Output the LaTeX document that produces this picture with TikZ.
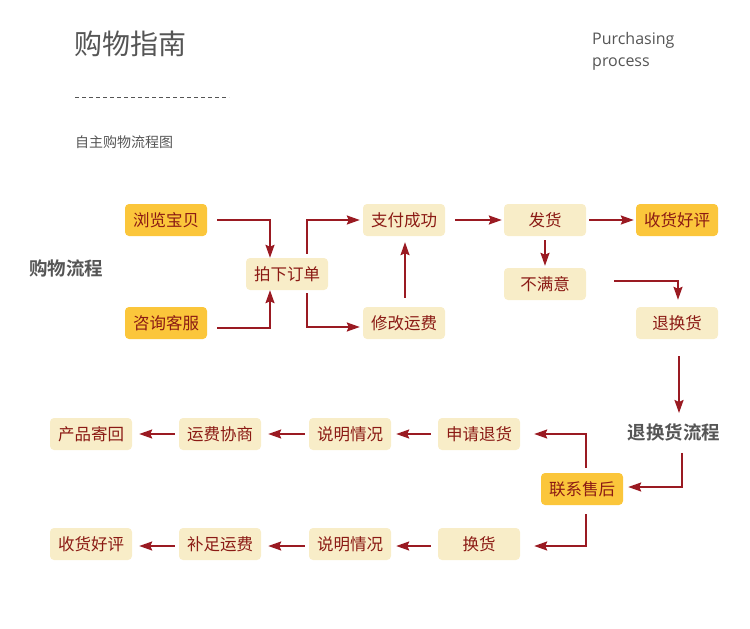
\documentclass[tikz,border=0pt]{standalone}
\usepackage{fontspec}
\setmainfont{Open Sans}
\newfontfamily\cjk{Noto Sans CJK SC}
\newfontfamily\cjkb{Noto Sans CJK SC Bold}
\usetikzlibrary{arrows.meta,calc}
\definecolor{boxyel}{HTML}{FBC63B}
\definecolor{boxbei}{HTML}{F8EDC8}
\definecolor{txtred}{HTML}{8B1A14}
\definecolor{linered}{HTML}{9A1A22}
\definecolor{titlegray}{HTML}{555555}
\tikzset{
  base/.style={rounded corners=4pt, minimum width=82pt, minimum height=32pt, inner sep=0pt,
    text=txtred, font=\cjk\fontsize{16.5}{19}\selectfont},
  ybox/.style={base, fill=boxyel},
  bbox/.style={base, fill=boxbei},
  conn/.style={draw=linered, line width=2pt, -{Stealth[length=13pt,width=9pt,inset=2pt]}},
  sect/.style={text=titlegray, font=\cjkb\fontsize{18.5}{20}\selectfont, inner sep=0pt},
}
\begin{document}
\begin{tikzpicture}[x=1pt,y=-1pt]
\useasboundingbox (0,0) rectangle (750,629);
% headings
\node[anchor=west, text=titlegray, font=\cjk\fontsize{28}{30}\selectfont, inner sep=0pt] (title) at (74,44) {购物指南};
\node[anchor=north west, text=titlegray, font=\fontsize{16}{22}\selectfont, align=left, inner sep=0pt] (eng) at (592,32) {Purchasing\\process};
\coordinate (d1) at (75,97);
\coordinate (d2) at (229,97);
\draw[titlegray, line width=0.7pt, dash pattern=on 4pt off 3pt] (d1) -- (d2);
\node[anchor=west, text=titlegray, font=\cjk\fontsize{14}{16}\selectfont, inner sep=0pt] (sub) at (75,142) {自主购物流程图};
\node[sect, anchor=west] (s1) at (29,268) {购物流程};
\node[sect] (s2) at (674,432) {退换货流程};
% boxes
\node[ybox] (liulan) at (166,220) {浏览宝贝};
\node[ybox] (zixun) at (166,323) {咨询客服};
\node[bbox] (paixia) at (287,274) {拍下订单};
\node[bbox] (zhifu) at (404,220) {支付成功};
\node[bbox] (xiugai) at (404,323) {修改运费};
\node[bbox] (fahuo) at (545,220) {发货};
\node[ybox] (haoping) at (677,220) {收货好评};
\node[bbox] (bumanyi) at (545,284) {不满意};
\node[bbox] (tuihuan) at (677,323) {退换货};
\node[ybox] (lianxi) at (582,489) {联系售后};
\node[bbox] (shenqing) at (479,434) {申请退货};
\node[bbox] (shuoming1) at (350,434) {说明情况};
\node[bbox] (yunfei) at (220,434) {运费协商};
\node[bbox] (jihui) at (91,434) {产品寄回};
\node[bbox] (huanhuo) at (479,544) {换货};
\node[bbox] (shuoming2) at (350,544) {说明情况};
\node[bbox] (buzu) at (220,544) {补足运费};
\node[bbox] (haoping2) at (91,544) {收货好评};
% connectors
\draw[conn] ($(liulan.east)+(10,0)$) -| ($(paixia.north)+(-17,0)$);
\draw[conn] ($(zixun.east)+(10,5)$) -| ($(paixia.south)+(-17,0)$);
\draw[conn] ($(paixia.north)+(20,-4)$) |- ($(zhifu.west)+(-3,0)$);
\draw[conn] ($(paixia.south)+(20,3)$) |- ($(xiugai.west)+(-3,4)$);
\draw[conn] ($(xiugai.north)+(1,-9)$) -- ($(zhifu.south)+(1,6)$);
\draw[conn] ($(zhifu.east)+(10,0)$) -- ($(fahuo.west)+(-2,0)$);
\draw[conn] ($(fahuo.east)+(3,0)$) -- ($(haoping.west)+(-2,0)$);
\draw[conn] ($(fahuo.south)+(0,4)$) -- ($(bumanyi.north)+(0,-2)$);
\draw[conn] ($(bumanyi.east)+(28,-3)$) -| ($(tuihuan.north)+(1,-7)$);
\draw[conn] ($(tuihuan.south)+(2,17)$) -- ($(s2.north)+(5,-10)$);
\draw[conn] ($(s2.south)+(8,12)$) |- ($(lianxi.east)+(5,-2)$);
\draw[conn] ($(lianxi.north)+(4,-5)$) |- ($(shenqing.east)+(14,0)$);
\draw[conn] ($(lianxi.south)+(4,9)$) |- ($(huanhuo.east)+(14,2)$);
\draw[conn] ($(shenqing.west)+(-7,0)$) -- ($(shuoming1.east)+(5,0)$);
\draw[conn] ($(shuoming1.west)+(-4,0)$) -- ($(yunfei.east)+(7,0)$);
\draw[conn] ($(yunfei.west)+(-4,0)$) -- ($(jihui.east)+(7,0)$);
\draw[conn] ($(huanhuo.west)+(-7,2)$) -- ($(shuoming2.east)+(5,2)$);
\draw[conn] ($(shuoming2.west)+(-4,2)$) -- ($(buzu.east)+(7,2)$);
\draw[conn] ($(buzu.west)+(-4,2)$) -- ($(haoping2.east)+(7,2)$);
\end{tikzpicture}
\end{document}
